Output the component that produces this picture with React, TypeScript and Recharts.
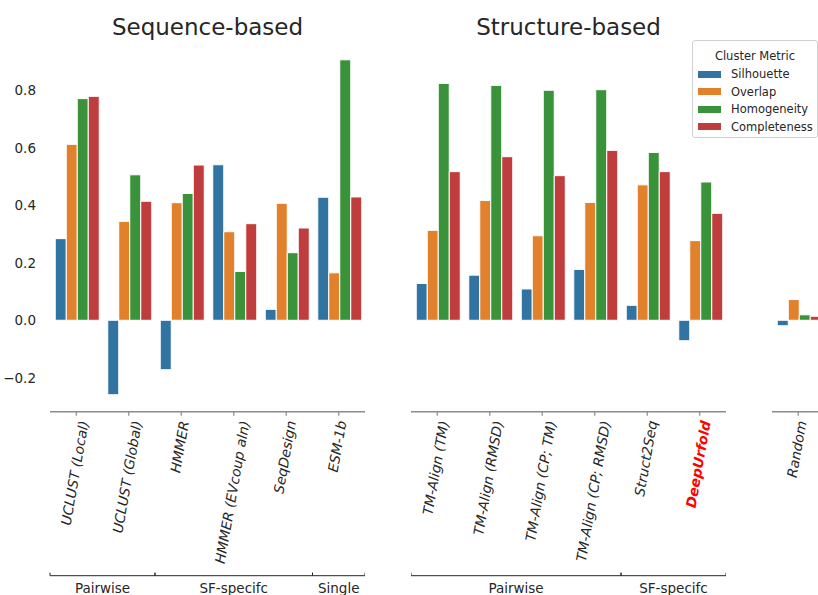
import { BarChart, Bar, XAxis, YAxis } from "recharts";

// cluster metrics (hue)
const metrics = ["Silhouette", "Overlap", "Homogeneity", "Completeness"];
const metricColors = ["#3274a1", "#e1812c", "#3a923a", "#c03d3e"];

// sequence-based methods
const seqMethods = ["UCLUST (Local)", "UCLUST (Global)", "HMMER", "HMMER (EVcoup aln)", "SeqDesign", "ESM-1b"];
const seqSilhouette = [0.284, -0.259, -0.172, 0.541, 0.038, 0.428];
const seqOverlap = [0.612, 0.344, 0.409, 0.308, 0.407, 0.165];
const seqHomogeneity = [0.771, 0.506, 0.441, 0.17, 0.235, 0.906];
const seqCompleteness = [0.779, 0.414, 0.54, 0.336, 0.321, 0.429];
const seqGroups = [
  { label: "Pairwise", span: 2 },
  { label: "SF-specifc", span: 3 },
  { label: "Single", span: 1 },
];

// structure-based methods
const structMethods = ["TM-Align (TM)", "TM-Align (RMSD)", "TM-Align (CP; TM)", "TM-Align (CP; RMSD)", "Struct2Seq", "DeepUrfold"];
const structSilhouette = [0.128, 0.157, 0.109, 0.177, 0.052, -0.071];
const structOverlap = [0.313, 0.417, 0.294, 0.41, 0.471, 0.277];
const structHomogeneity = [0.824, 0.817, 0.8, 0.802, 0.584, 0.481];
const structCompleteness = [0.517, 0.569, 0.503, 0.591, 0.517, 0.372];
const structGroups = [
  { label: "Pairwise", span: 4 },
  { label: "SF-specifc", span: 2 },
];

// baseline
const randomMethods = ["Random"];
const randomSilhouette = [-0.019];
const randomOverlap = [0.072];
const randomHomogeneity = [0.019];
const randomCompleteness = [0.014];

const yTicks = [-0.2, 0, 0.2, 0.4, 0.6, 0.8];
const Y_DOMAIN: [number, number] = [-0.318, 0.95];

const FONT = "DejaVu Sans";
const TEXT = "#262626";
const AXIS_GREY = "#8c8c8c";
const HIGHLIGHT = "DeepUrfold";

// layout
const H = 595;
const TOP = 47.15;
const AXIS_Y = 411.7;
const BAND = 52.5;
const GROUP_Y = 575.7;
const LABEL_SIZE = 13.8;
const ROT = 80;

function buildRows(methods: string[], cols: number[][]) {
  return methods.map((m, i) => {
    const row: any = { method: m };
    metrics.forEach((k, j) => (row[k] = cols[j][i]));
    return row;
  });
}

const seqData = buildRows(seqMethods, [seqSilhouette, seqOverlap, seqHomogeneity, seqCompleteness]);
const structData = buildRows(structMethods, [structSilhouette, structOverlap, structHomogeneity, structCompleteness]);
const randomData = buildRows(randomMethods, [randomSilhouette, randomOverlap, randomHomogeneity, randomCompleteness]);

// measure label length so the rotated box can be centred on the tick (like ha="center")
let ctx: CanvasRenderingContext2D | null = null;
function measure(s: string, bold: boolean) {
  if (!ctx && typeof document !== "undefined") ctx = document.createElement("canvas").getContext("2d");
  if (!ctx) return s.length * LABEL_SIZE * 0.6;
  ctx.font = `italic ${bold ? "bold " : ""}${LABEL_SIZE}px "${FONT}"`;
  return ctx.measureText(s).width;
}

function MethodTick(props: any) {
  const { x, payload, methods, groups } = props;
  const idx = methods.indexOf(payload.value);
  const hi = payload.value === HIGHLIGHT;
  const rad = (ROT * Math.PI) / 180;
  const L = measure(String(payload.value), hi);
  const asc = 0.73 * LABEL_SIZE;
  const desc = 0.24 * LABEL_SIZE;
  const px = x + (L / 2) * Math.cos(rad) + (Math.sin(rad) * (asc - desc)) / 2;
  const py = AXIS_Y + 10;

  // group bracket drawn from the first tick of each group
  let bracket = null;
  if (groups) {
    let start = 0;
    for (const g of groups) {
      if (start === idx) {
        const x0 = x - BAND / 2;
        const x1 = x0 + g.span * BAND;
        bracket = (
          <g>
            <line x1={x0} x2={x1} y1={GROUP_Y} y2={GROUP_Y} stroke={TEXT} strokeWidth={1} />
            <line x1={x0} x2={x0} y1={GROUP_Y} y2={GROUP_Y - 3} stroke={TEXT} strokeWidth={1} />
            <line x1={x1} x2={x1} y1={GROUP_Y} y2={GROUP_Y - 3} stroke={TEXT} strokeWidth={1} />
            <text x={(x0 + x1) / 2} y={593} textAnchor="middle" fontSize={13.5} fill={TEXT} fontFamily={FONT}>
              {g.label}
            </text>
          </g>
        );
      }
      start += g.span;
    }
  }

  return (
    <g>
      <text
        x={px}
        y={py}
        transform={`rotate(-${ROT}, ${px}, ${py})`}
        textAnchor="end"
        fontSize={LABEL_SIZE}
        fontStyle="italic"
        fontWeight={hi ? "bold" : "normal"}
        fill={hi ? "#ff0000" : TEXT}
        fontFamily={FONT}
      >
        {payload.value}
      </text>
      {bracket}
    </g>
  );
}

function Panel({ data, methods, groups, left, showY }: any) {
  const yw = showY ? 50 : 0;
  const width = yw + methods.length * BAND;
  return (
    <div style={{ position: "absolute", left: left - yw, top: 0 }}>
      <BarChart
        width={width}
        height={H}
        data={data}
        margin={{ top: TOP, right: 0, left: 0, bottom: 0 }}
        barCategoryGap="10%"
        barGap={0}
      >
        <YAxis
          hide={!showY}
          width={yw}
          domain={Y_DOMAIN}
          ticks={yTicks}
          allowDataOverflow
          axisLine={false}
          tickLine={false}
          tickMargin={8}
          tick={{ fontSize: 13.5, fill: TEXT, fontFamily: FONT }}
          tickFormatter={(v: number) => v.toFixed(1).replace("-", "\u2212")}
        />
        <XAxis
          dataKey="method"
          height={H - AXIS_Y}
          interval={0}
          axisLine={{ stroke: AXIS_GREY, strokeWidth: 1.5 }}
          tickLine={{ stroke: AXIS_GREY, strokeWidth: 1.2 }}
          tickSize={4}
          tickMargin={0}
          tick={<MethodTick methods={methods} groups={groups} />}
        />
        {metrics.map((m, i) => (
          <Bar key={m} dataKey={m} fill={metricColors[i]} stroke="#ffffff" strokeWidth={1} isAnimationActive={false} />
        ))}
      </BarChart>
    </div>
  );
}

function Legend() {
  return (
    <div
      style={{
        position: "absolute",
        left: 692,
        top: 40,
        width: 124,
        height: 96,
        border: "1px solid #d0d0d0",
        borderRadius: 3,
        background: "rgba(255,255,255,0.8)",
        fontFamily: FONT,
        color: TEXT,
        fontSize: 11.5,
      }}
    >
      <div style={{ position: "absolute", top: 8, left: 0, width: 124, textAlign: "center", lineHeight: "14px" }}>
        Cluster Metric
      </div>
      {metrics.map((m, i) => (
        <div key={m} style={{ position: "absolute", top: 26 + i * 17.5, left: 5, height: 14, display: "flex", alignItems: "center" }}>
          <span style={{ display: "inline-block", width: 23, height: 7, background: metricColors[i], marginRight: 10 }} />
          <span style={{ lineHeight: "14px" }}>{m}</span>
        </div>
      ))}
    </div>
  );
}

export default function App() {
  return (
    <div style={{ position: "absolute", left: 0, top: 0, width: 818, height: H, overflow: "hidden", background: "#fff" }}>
      <Panel data={seqData} methods={seqMethods} groups={seqGroups} left={50.4} showY />
      <Panel data={structData} methods={structMethods} groups={structGroups} left={410.8} showY={false} />
      <Panel data={randomData} methods={randomMethods} groups={null} left={772} showY={false} />
      <svg width={818} height={H} style={{ position: "absolute", left: 0, top: 0, pointerEvents: "none" }}>
        <text x={207.5} y={35} textAnchor="middle" fontSize={23} fill={TEXT} fontFamily={FONT}>
          Sequence-based
        </text>
        <text x={568.5} y={35} textAnchor="middle" fontSize={23} fill={TEXT} fontFamily={FONT}>
          Structure-based
        </text>
      </svg>
      <Legend />
    </div>
  );
}
